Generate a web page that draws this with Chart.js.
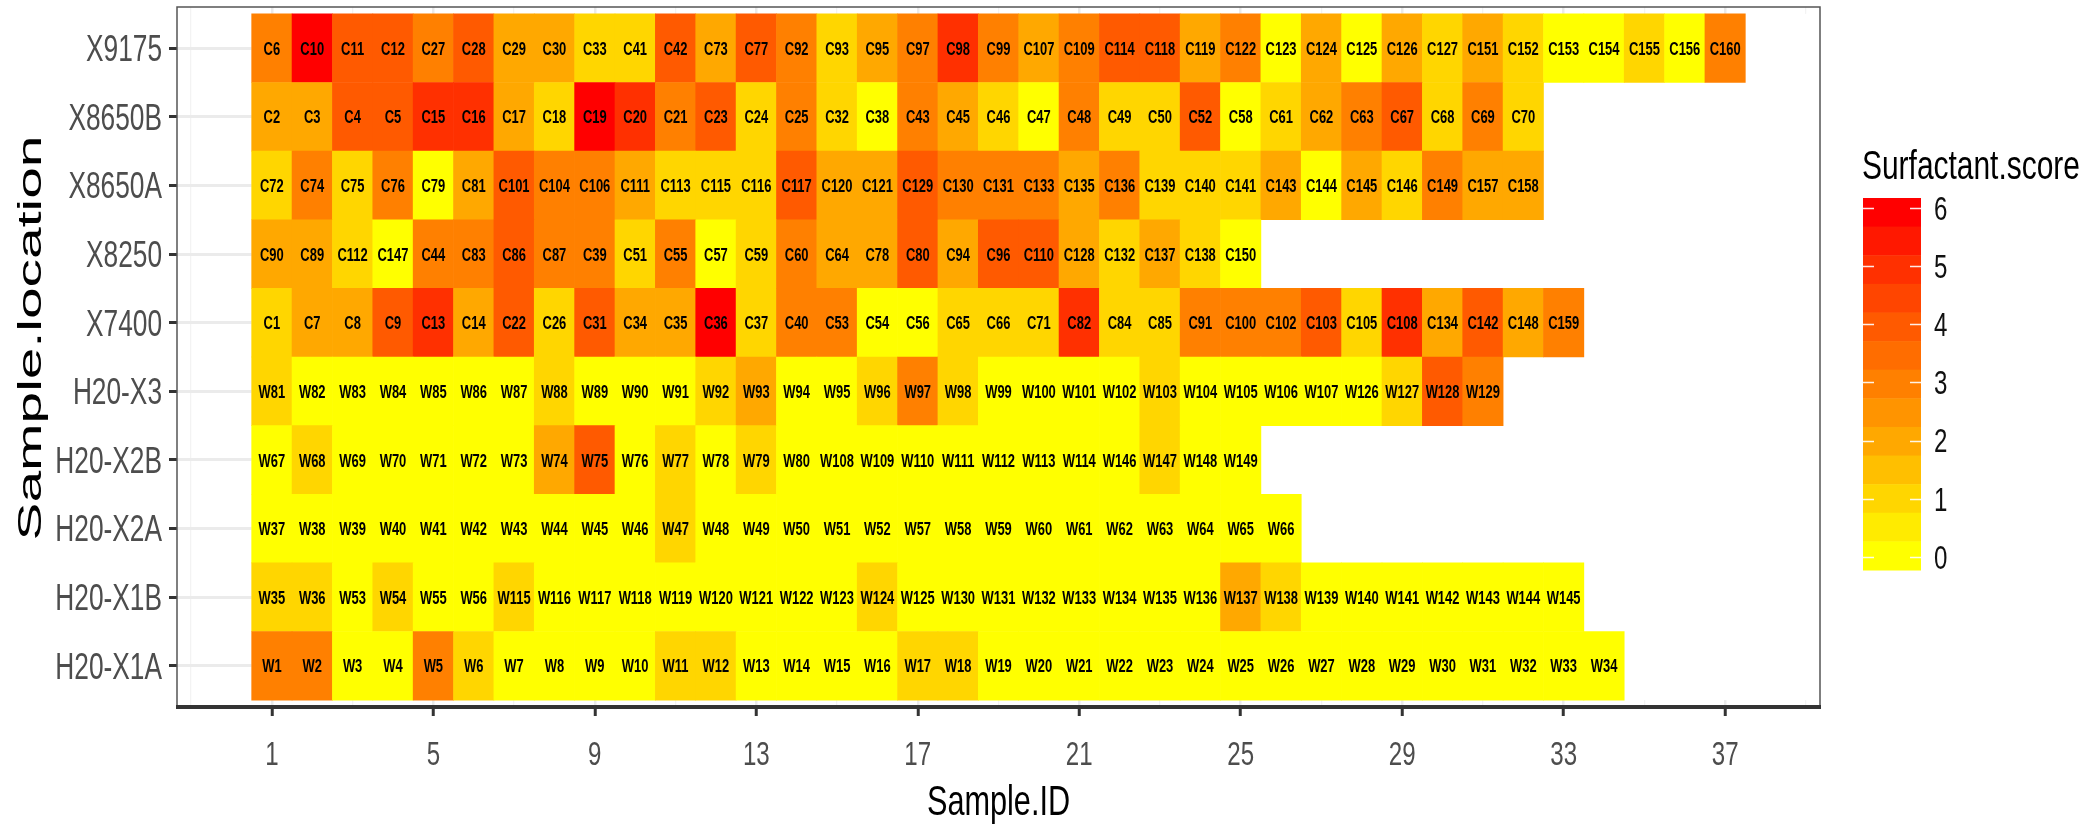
<!DOCTYPE html>
<html>
<head>
<meta charset="utf-8">
<script src="https://cdn.jsdelivr.net/npm/chart.js@4.4.1/dist/chart.umd.min.js"></script>
<style>
  html, body { margin: 0; padding: 0; background: #fff; }
  #wrap { width: 2087px; height: 825px; position: relative; }
</style>
</head>
<body>
<div id="wrap"><canvas id="heatmap"></canvas></div>
<script>
// rows, top to bottom
const sampleLocations = ['X9175', 'X8650B', 'X8650A', 'X8250', 'X7400',
    'H20-X3', 'H20-X2B', 'H20-X2A', 'H20-X1B', 'H20-X1A'];

// sample names per row, in Sample.ID order
const sampleNames = [
    ['C6', 'C10', 'C11', 'C12', 'C27', 'C28', 'C29', 'C30', 'C33', 'C41', 'C42', 'C73', 'C77', 'C92', 'C93', 'C95', 'C97', 'C98', 'C99', 'C107', 'C109', 'C114', 'C118', 'C119', 'C122', 'C123', 'C124', 'C125', 'C126', 'C127', 'C151', 'C152', 'C153', 'C154', 'C155', 'C156', 'C160'],
    ['C2', 'C3', 'C4', 'C5', 'C15', 'C16', 'C17', 'C18', 'C19', 'C20', 'C21', 'C23', 'C24', 'C25', 'C32', 'C38', 'C43', 'C45', 'C46', 'C47', 'C48', 'C49', 'C50', 'C52', 'C58', 'C61', 'C62', 'C63', 'C67', 'C68', 'C69', 'C70'],
    ['C72', 'C74', 'C75', 'C76', 'C79', 'C81', 'C101', 'C104', 'C106', 'C111', 'C113', 'C115', 'C116', 'C117', 'C120', 'C121', 'C129', 'C130', 'C131', 'C133', 'C135', 'C136', 'C139', 'C140', 'C141', 'C143', 'C144', 'C145', 'C146', 'C149', 'C157', 'C158'],
    ['C90', 'C89', 'C112', 'C147', 'C44', 'C83', 'C86', 'C87', 'C39', 'C51', 'C55', 'C57', 'C59', 'C60', 'C64', 'C78', 'C80', 'C94', 'C96', 'C110', 'C128', 'C132', 'C137', 'C138', 'C150'],
    ['C1', 'C7', 'C8', 'C9', 'C13', 'C14', 'C22', 'C26', 'C31', 'C34', 'C35', 'C36', 'C37', 'C40', 'C53', 'C54', 'C56', 'C65', 'C66', 'C71', 'C82', 'C84', 'C85', 'C91', 'C100', 'C102', 'C103', 'C105', 'C108', 'C134', 'C142', 'C148', 'C159'],
    ['W81', 'W82', 'W83', 'W84', 'W85', 'W86', 'W87', 'W88', 'W89', 'W90', 'W91', 'W92', 'W93', 'W94', 'W95', 'W96', 'W97', 'W98', 'W99', 'W100', 'W101', 'W102', 'W103', 'W104', 'W105', 'W106', 'W107', 'W126', 'W127', 'W128', 'W129'],
    ['W67', 'W68', 'W69', 'W70', 'W71', 'W72', 'W73', 'W74', 'W75', 'W76', 'W77', 'W78', 'W79', 'W80', 'W108', 'W109', 'W110', 'W111', 'W112', 'W113', 'W114', 'W146', 'W147', 'W148', 'W149'],
    ['W37', 'W38', 'W39', 'W40', 'W41', 'W42', 'W43', 'W44', 'W45', 'W46', 'W47', 'W48', 'W49', 'W50', 'W51', 'W52', 'W57', 'W58', 'W59', 'W60', 'W61', 'W62', 'W63', 'W64', 'W65', 'W66'],
    ['W35', 'W36', 'W53', 'W54', 'W55', 'W56', 'W115', 'W116', 'W117', 'W118', 'W119', 'W120', 'W121', 'W122', 'W123', 'W124', 'W125', 'W130', 'W131', 'W132', 'W133', 'W134', 'W135', 'W136', 'W137', 'W138', 'W139', 'W140', 'W141', 'W142', 'W143', 'W144', 'W145'],
    ['W1', 'W2', 'W3', 'W4', 'W5', 'W6', 'W7', 'W8', 'W9', 'W10', 'W11', 'W12', 'W13', 'W14', 'W15', 'W16', 'W17', 'W18', 'W19', 'W20', 'W21', 'W22', 'W23', 'W24', 'W25', 'W26', 'W27', 'W28', 'W29', 'W30', 'W31', 'W32', 'W33', 'W34']
];

// Surfactant.score per sample, same layout as sampleNames
const surfactantScores = [
    [3, 6, 4, 4, 3, 4, 2, 2, 1, 1, 4, 2, 4, 3, 1, 2, 3, 5, 3, 2, 3, 4, 4, 2, 3, 0, 2, 0, 2, 1, 2, 1, 0, 0, 1, 0, 3],
    [2, 2, 4, 4, 5, 5, 2, 1, 6, 5, 3, 4, 1, 3, 1, 0, 3, 2, 1, 0, 3, 1, 1, 4, 0, 1, 2, 3, 4, 1, 3, 1],
    [1, 3, 1, 3, 0, 2, 4, 3, 3, 2, 1, 1, 1, 4, 2, 2, 4, 3, 3, 3, 2, 3, 1, 1, 1, 2, 0, 2, 1, 3, 2, 2],
    [2, 2, 1, 0, 3, 3, 4, 3, 3, 1, 3, 0, 1, 3, 2, 2, 4, 2, 4, 4, 2, 1, 2, 1, 0],
    [1, 2, 2, 4, 5, 2, 4, 1, 4, 2, 2, 6, 1, 3, 3, 0, 0, 1, 1, 1, 5, 1, 1, 3, 3, 3, 4, 1, 5, 2, 4, 2, 3],
    [1, 0, 0, 0, 0, 0, 0, 1, 0, 0, 0, 1, 2, 0, 0, 1, 3, 1, 0, 0, 0, 0, 1, 0, 0, 0, 0, 0, 1, 4, 3],
    [0, 1, 0, 0, 0, 0, 0, 2, 4, 0, 1, 0, 1, 0, 0, 0, 0, 0, 0, 0, 0, 0, 1, 0, 0],
    [0, 0, 0, 0, 0, 0, 0, 0, 0, 0, 1, 0, 0, 0, 0, 0, 0, 0, 0, 0, 0, 0, 0, 0, 0, 0],
    [1, 1, 0, 1, 0, 0, 1, 0, 0, 0, 0, 0, 0, 0, 0, 1, 0, 0, 0, 0, 0, 0, 0, 0, 2, 1, 0, 0, 0, 0, 0, 0, 0],
    [3, 3, 0, 0, 3, 1, 0, 0, 0, 0, 1, 1, 0, 0, 0, 0, 1, 1, 0, 0, 0, 0, 0, 0, 0, 0, 0, 0, 0, 0, 0, 0, 0, 0]
];

const xTicks = [1, 5, 9, 13, 17, 21, 25, 29, 33, 37];
const legendTicks = [0, 1, 2, 3, 4, 5, 6];

// fill colour at score 0..6
const scoreColours = ['#FFFF00', '#FFD600', '#FFA800', '#FF8000', '#FF5A00', '#FF3000', '#FF0000'];

const FONT = '"Liberation Sans", Arial, Helvetica, sans-serif';
const SQUISH = 0.73;   // the reference text is squeezed sideways

function hexToRgb(hex) {
    const n = parseInt(hex.slice(1), 16);
    return [(n >> 16) & 255, (n >> 8) & 255, n & 255];
}

function colourFor(score) {
    const s = Math.max(0, Math.min(6, score));
    const lo = Math.floor(s), hi = Math.min(6, lo + 1), t = s - lo;
    const a = hexToRgb(scoreColours[lo]), b = hexToRgb(scoreColours[hi]);
    const c = a.map((v, k) => Math.round(v + (b[k] - v) * t));
    return `rgb(${c[0]},${c[1]},${c[2]})`;
}

// draw text squeezed horizontally (or along its length when rotated)
function squishText(ctx, text, x, y, o) {
    ctx.save();
    ctx.translate(x, y);
    if (o.rotate) ctx.rotate(-Math.PI / 2);
    ctx.scale(o.sx || SQUISH, o.sy || 1);
    ctx.font = o.font;
    ctx.fillStyle = o.color || '#000';
    ctx.textAlign = o.align || 'center';
    ctx.textBaseline = 'alphabetic';
    ctx.fillText(text, 0, 0);
    ctx.restore();
}

// one floating bar per tile
const cells = [];
sampleNames.forEach((names, row) => {
    names.forEach((name, i) => {
        cells.push({ x: [i + 0.5, i + 1.5], y: row, name: name, score: surfactantScores[row][i] });
    });
});

const gridX = [];
for (let v = -1; v <= 39; v += 2) gridX.push(v);
const isMajor = v => xTicks.includes(v);

// white behind the tiles hides the row grid lines to the right
const panelPatch = {
    id: 'panelPatch',
    beforeDatasetsDraw(chart) {
        const { ctx, scales: { x, y }, chartArea } = chart;
        const x0 = x.getPixelForValue(0.5);
        const y0 = y.getPixelForValue(-0.5), y1 = y.getPixelForValue(sampleLocations.length - 0.5);
        ctx.save();
        ctx.fillStyle = '#fff';
        ctx.fillRect(x0, y0, chartArea.right - x0, y1 - y0);
        ctx.restore();
    }
};

const cellLabels = {
    id: 'cellLabels',
    afterDatasetsDraw(chart) {
        const ctx = chart.ctx;
        const meta = chart.getDatasetMeta(0);
        const size = 18.5;
        meta.data.forEach((bar, i) => {
            const cx = (bar.x + bar.base) / 2;
            squishText(ctx, cells[i].name, cx, bar.y + size * 0.358,
                { font: `bold ${size}px ${FONT}`, color: '#000', sx: 0.7 });
        });
    }
};

const decorations = {
    id: 'decorations',
    afterDraw(chart) {
        const { ctx, chartArea: a, scales: { x, y } } = chart;
        ctx.save();
        // panel frame
        ctx.strokeStyle = '#555';
        ctx.lineWidth = 1.5;
        ctx.strokeRect(a.left, a.top, a.right - a.left, a.bottom - a.top);
        ctx.strokeStyle = '#333';
        ctx.lineWidth = 4;
        ctx.beginPath();
        ctx.moveTo(a.left - 1, a.bottom);
        ctx.lineTo(a.right + 1, a.bottom);
        ctx.stroke();
        ctx.restore();

        // tick labels
        sampleLocations.forEach((name, i) => {
            squishText(ctx, name, a.left - 15, y.getPixelForValue(i) + 36 * 0.358,
                { font: `36px ${FONT}`, color: '#4D4D4D', align: 'right' });
        });
        xTicks.forEach(v => {
            squishText(ctx, String(v), x.getPixelForValue(v), 765,
                { font: `33px ${FONT}`, color: '#4D4D4D' });
        });

        // axis titles
        squishText(ctx, 'Sample.ID', (a.left + a.right) / 2, 815, { font: `42px ${FONT}` });
        ctx.save();
        ctx.font = `42px ${FONT}`;
        const w = ctx.measureText('Sample.location').width;
        ctx.restore();
        squishText(ctx, 'Sample.location', 41, 338,
            { font: `42px ${FONT}`, rotate: true, sx: 405 / w, sy: 0.78 });

        // colour bar legend
        const barL = 1863, barR = 1921, barT = 198, barB = 570;
        const nBands = 13;
        const bandH = (barB - barT) / nBands;
        for (let k = 0; k < nBands; k++) {
            ctx.fillStyle = colourFor(6 - k * 0.5);
            ctx.fillRect(barL, barT + k * bandH, barR - barL, bandH + 0.5);
        }
        const yOf = v => 557 - v * 58.2;
        ctx.strokeStyle = 'rgba(255,255,255,0.9)';
        ctx.lineWidth = 1.5;
        legendTicks.forEach(v => {
            const py = Math.round(yOf(v)) + 0.5;
            ctx.beginPath();
            ctx.moveTo(barL, py); ctx.lineTo(barL + 11, py);
            ctx.moveTo(barR - 11, py); ctx.lineTo(barR, py);
            ctx.stroke();
            squishText(ctx, String(v), 1934, yOf(v) + 33 * 0.358,
                { font: `33px ${FONT}`, color: '#111', align: 'left' });
        });
        squishText(ctx, 'Surfactant.score', 1862, 179, { font: `41px ${FONT}`, align: 'left' });
    }
};

new Chart(document.getElementById('heatmap'), {
    type: 'bar',
    data: {
        datasets: [{
            data: cells,
            backgroundColor: c => colourFor(c.raw ? c.raw.score : 0),
            borderWidth: 0,
            barPercentage: 1,
            categoryPercentage: 1
        }]
    },
    options: {
        indexAxis: 'y',
        responsive: true,
        maintainAspectRatio: false,
        animation: false,
        devicePixelRatio: 1,
        layout: { padding: { top: 7, right: 267, left: 0, bottom: 0 } },
        plugins: { legend: { display: false }, tooltip: { enabled: false } },
        scales: {
            x: {
                type: 'linear',
                min: -1.35,
                max: 39.35,
                afterBuildTicks: s => { s.ticks = gridX.map(v => ({ value: v })); },
                afterFit: s => { s.height = 118; },
                ticks: { display: false },
                border: { display: false },
                grid: {
                    color: c => isMajor(c.tick.value) ? '#EBEBEB' : '#F3F3F3',
                    lineWidth: c => isMajor(c.tick.value) ? 2.5 : 1.3,
                    tickColor: c => isMajor(c.tick.value) ? '#333' : 'rgba(0,0,0,0)',
                    tickLength: 9,
                    tickWidth: 3
                }
            },
            y: {
                type: 'linear',
                reverse: true,
                offset: false,
                min: -0.6,
                max: sampleLocations.length - 0.4,
                afterBuildTicks: s => { s.ticks = sampleLocations.map((_, i) => ({ value: i })); },
                afterFit: s => { s.width = 177; },
                ticks: { display: false },
                border: { display: false },
                grid: { offset: false, color: '#EBEBEB', lineWidth: 3, tickColor: '#333', tickLength: 8, tickWidth: 3 }
            }
        }
    },
    plugins: [panelPatch, cellLabels, decorations]
});
</script>
</body>
</html>
